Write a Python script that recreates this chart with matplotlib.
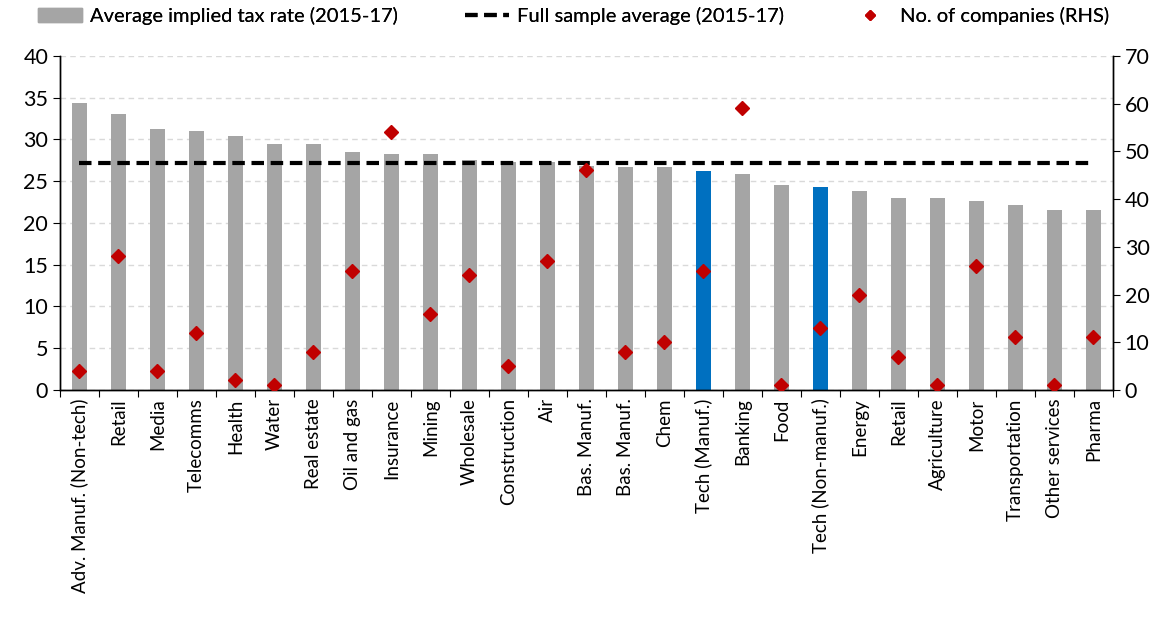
import numpy as np
import matplotlib
matplotlib.use("Agg")
import matplotlib.pyplot as plt
from matplotlib.lines import Line2D
from matplotlib.patches import Patch

plt.rcParams['font.family'] = ['Lato', 'DejaVu Sans']

# ===== Data ==================================================================
sectors = ["Adv. Manuf. (Non-tech)", "Retail", "Media", "Telecomms", "Health",
           "Water", "Real estate", "Oil and gas", "Insurance", "Mining",
           "Wholesale", "Construction", "Air", "Bas. Manuf.", "Bas. Manuf.",
           "Chem", "Tech (Manuf.)", "Banking", "Food", "Tech (Non-manuf.)",
           "Energy", "Retail", "Agriculture", "Motor", "Transportation",
           "Other services", "Pharma"]

tax_rate = [34.4, 33.1, 31.2, 31.0, 30.4, 29.4, 29.4, 28.5, 28.3, 28.2,
            27.5, 27.3, 27.3, 26.8, 26.7, 26.7, 26.2, 25.8, 24.6, 24.3,
            23.8, 23.0, 23.0, 22.6, 22.1, 21.6, 21.5]

n_companies = [4, 28, 4, 12, 2, 1, 8, 25, 54, 16,
               24, 5, 27, 46, 8, 10, 25, 59, 1, 13,
               20, 7, 1, 26, 11, 1, 11]

full_avg = 27.2
highlight = ["Tech (Manuf.)", "Tech (Non-manuf.)"]

GREY = "#a5a5a5"
BLUE = "#0070c0"
RED = "#c00000"
DASH = (0, (3, 1.6))

# ===== Plot ==================================================================
fig = plt.figure(figsize=(11.67, 6.27), dpi=100)
ax = fig.add_axes([0.0514, 0.378, 0.9023, 0.5329])
ax2 = ax.twinx()

x = np.arange(len(sectors))
colors = [BLUE if s in highlight else GREY for s in sectors]

ax.bar(x, tax_rate, width=0.4, color=colors, zorder=2)
ax.plot([x[0], x[-1]], [full_avg, full_avg], color="black", lw=3,
        ls=DASH, zorder=3)
ax2.plot(x, n_companies, ls="none", marker="D", ms=7.5, color=RED, zorder=4)

ax.set_xlim(-0.5, len(sectors) - 0.5)
ax.set_ylim(0, 40)
ax.set_yticks(np.arange(0, 41, 5))
ax2.set_ylim(0, 70)
ax2.set_yticks(np.arange(0, 71, 10))

ax.grid(axis="y", color="#d9d9d9", ls=(0, (4, 3)), lw=1, zorder=0)
ax.set_axisbelow(True)

# category boundaries as ticks, labels on minor ticks
ax.set_xticks(np.arange(-0.5, len(sectors), 1))
ax.set_xticklabels([])
ax.set_xticks(x, minor=True)
ax.set_xticklabels(sectors, minor=True, rotation=90, fontsize=13.5)
ax.tick_params(axis="x", which="minor", length=0, pad=6)
ax.tick_params(axis="x", which="major", length=5, direction="out")
ax.tick_params(axis="y", labelsize=15.5, length=5, direction="out")
ax2.tick_params(axis="y", labelsize=15.5, length=5, direction="out")

for a in (ax, ax2):
    a.spines["top"].set_visible(False)
    for s in ("left", "right", "bottom"):
        a.spines[s].set_color("black")
        a.spines[s].set_linewidth(1)

# ===== Legend (three pieces placed along the top) ===========================
entries = [
    (Patch(color=GREY), "Average implied tax rate (2015-17)", 0.0326),
    (Line2D([], [], color="black", lw=3, ls=DASH),
     "Full sample average (2015-17)", 0.3985),
    (Line2D([], [], ls="none", marker="D", ms=5, color=RED),
     "No. of companies (RHS)", 0.7266),
]
for handle, label, xpos in entries:
    leg = fig.legend([handle], [label], loc="center left", frameon=False,
                     bbox_to_anchor=(xpos, 0.9745), fontsize=14.5,
                     handlelength=2.2, handletextpad=0.4, borderpad=0,
                     borderaxespad=0)
    fig.add_artist(leg)

plt.savefig("out.png", dpi=100)
